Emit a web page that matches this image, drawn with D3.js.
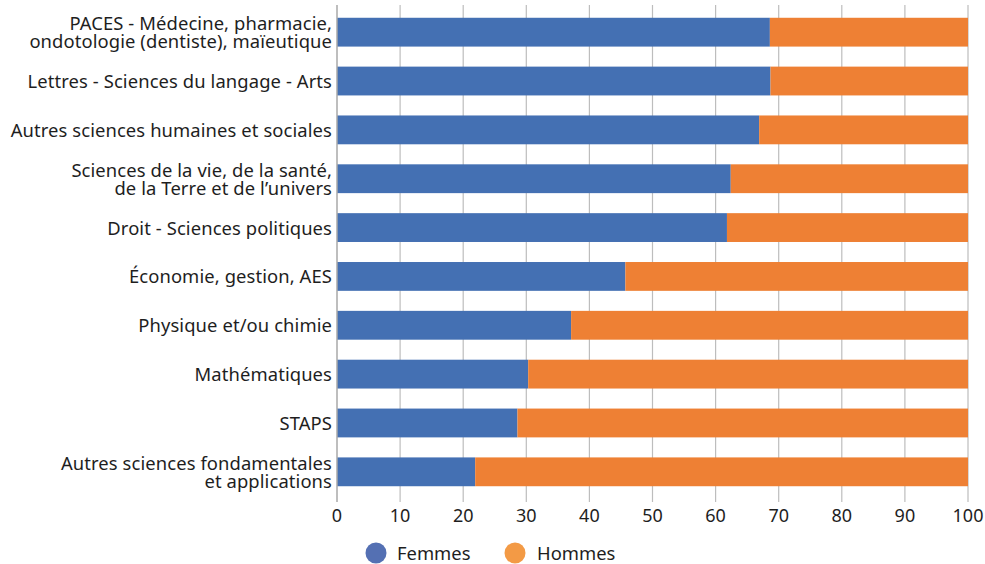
<!DOCTYPE html>
<html lang="fr">
<head>
<meta charset="utf-8">
<title>Femmes / Hommes par discipline</title>
<script src="https://d3js.org/d3.v7.min.js"></script>
<style>
  body { margin: 0; background: #fff; }
  text { font-family: "Noto Sans", "Open Sans", sans-serif; fill: #1e1e1e; }
</style>
</head>
<body>
<script>
var w = 985, h = 564;

// disciplines (each entry = lines of the label)
var categories = [
  ["PACES - Médecine, pharmacie,", "ondotologie (dentiste), maïeutique"],
  ["Lettres - Sciences du langage - Arts"],
  ["Autres sciences humaines et sociales"],
  ["Sciences de la vie, de la santé,", "de la Terre et de l\u2019univers"],
  ["Droit - Sciences politiques"],
  ["Économie, gestion, AES"],
  ["Physique et/ou chimie"],
  ["Mathématiques"],
  ["STAPS"],
  ["Autres sciences fondamentales", "et applications"]
];
var femmes = [68.6, 68.7, 66.9, 62.4, 61.8, 45.7, 37.1, 30.3, 28.6, 21.9];
var hommes = [31.4, 31.3, 33.1, 37.6, 38.2, 54.3, 62.9, 69.7, 71.4, 78.1];
var ticks = [0, 10, 20, 30, 40, 50, 60, 70, 80, 90, 100];
var seriesNames = ["Femmes", "Hommes"];
var colors = ["#4470b3", "#ee8034"];

var margin = {top: 8, left: 337, right: 17, bottom: 68};

var svg = d3.select("body").append("svg")
    .attr("width", w)
    .attr("height", h);

var x = d3.scaleLinear()
    .domain([0, 100])
    .range([margin.left, w - margin.right]);

var y = d3.scaleBand()
    .domain(d3.range(categories.length))
    .range([margin.top, h - margin.bottom])
    .paddingInner(0.41)
    .paddingOuter(0.2);

// gridlines
svg.append("g")
    .selectAll("line")
    .data(ticks.slice(1))
    .enter()
    .append("line")
    .attr("x1", d => x(d)).attr("x2", d => x(d))
    .attr("y1", 5).attr("y2", 502)
    .attr("stroke", "#bdbdbd")
    .attr("stroke-width", 1.2);

// stacked bars
var rows = categories.map((c, i) => ({i: i, f: femmes[i], h: hommes[i]}));

svg.append("g").selectAll("rect")
    .data(rows)
    .enter()
    .append("rect")
    .attr("x", x(0))
    .attr("y", d => y(d.i))
    .attr("width", d => x(d.f) - x(0))
    .attr("height", y.bandwidth())
    .attr("fill", colors[0]);

svg.append("g").selectAll("rect")
    .data(rows)
    .enter()
    .append("rect")
    .attr("x", d => x(d.f))
    .attr("y", d => y(d.i))
    .attr("width", d => x(d.f + d.h) - x(d.f))
    .attr("height", y.bandwidth())
    .attr("fill", colors[1]);

// vertical axis line
svg.append("line")
    .attr("x1", x(0)).attr("x2", x(0))
    .attr("y1", 5).attr("y2", 502)
    .attr("stroke", "#a8a8a8")
    .attr("stroke-width", 1.5);

// category labels
var lab = svg.append("g").selectAll("text")
    .data(categories)
    .enter()
    .append("text")
    .attr("text-anchor", "end")
    .attr("font-size", 18.4)
    .attr("letter-spacing", 0.1)
    .attr("x", x(0) - 5)
    .attr("y", (d, i) => y(i) + y.bandwidth() / 2 - (d.length - 1) * 8.8 + 7);

lab.selectAll("tspan")
    .data(d => d)
    .enter()
    .append("tspan")
    .attr("x", x(0) - 5)
    .attr("dy", (d, j) => j === 0 ? 0 : 17.8)
    .text(d => d);

// x tick labels
svg.append("g").selectAll("text")
    .data(ticks)
    .enter()
    .append("text")
    .attr("x", d => x(d))
    .attr("y", 522)
    .attr("text-anchor", "middle")
    .attr("font-size", 18)
    .text(d => d);

// legend
var legX = [376, 515];
var leg = svg.append("g").selectAll("g")
    .data(seriesNames)
    .enter()
    .append("g")
    .attr("transform", (d, i) => "translate(" + legX[i] + ",553)");

leg.append("circle")
    .attr("r", 10.5)
    .attr("fill", (d, i) => i === 0 ? "#5470b3" : "#f39a45");

leg.append("text")
    .attr("x", (d, i) => i === 0 ? 21 : 22)
    .attr("y", 6.5)
    .attr("font-size", 18.4)
    .text(d => d);
</script>
</body>
</html>
